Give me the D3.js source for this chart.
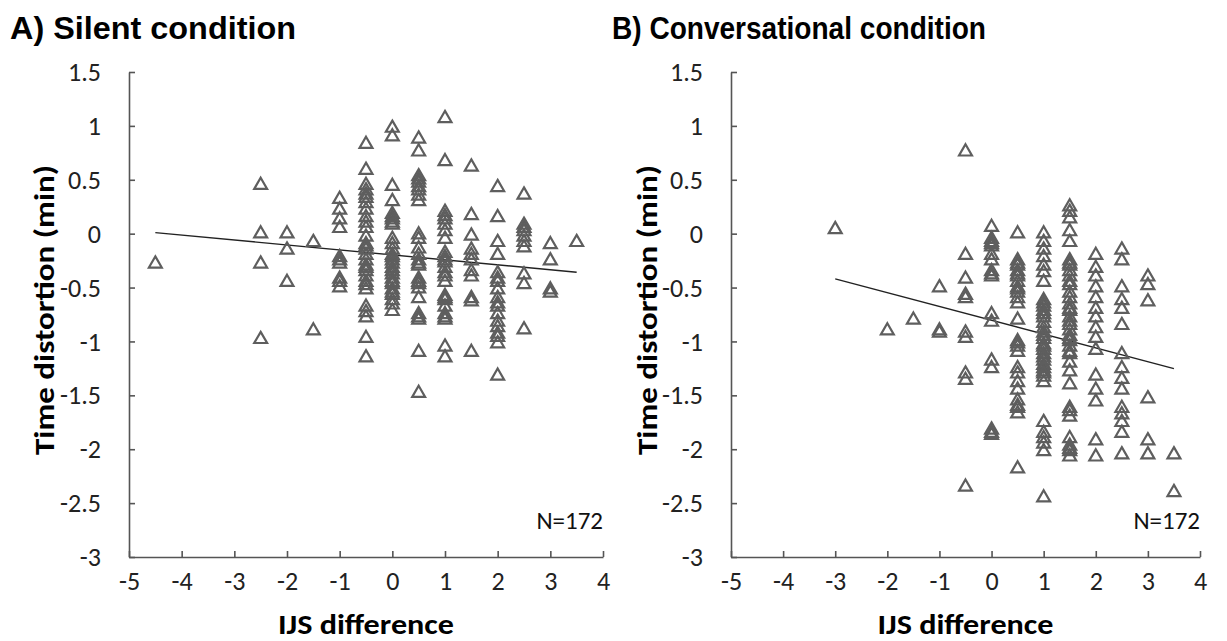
<!DOCTYPE html>
<html>
<head>
<meta charset="utf-8">
<script src="https://cdn.jsdelivr.net/npm/d3@7"></script>
<style>
  html, body { margin: 0; padding: 0; background: #fff; }
  svg { display: block; }
</style>
</head>
<body>
<svg id="chart" width="1227" height="641"></svg>
<script>
// IJS difference values (x) and time distortion in minutes (y), one array per panel.
const silentX = [
  -4.5,
  -2.5, -2.5, -2.5, -2.5,
  -2, -2, -2,
  -1.5, -1.5,
  -1, -1, -1, -1, -1, -1, -1, -1, -1, -1,
  -0.5, -0.5, -0.5, -0.5, -0.5, -0.5, -0.5, -0.5, -0.5, -0.5, -0.5, -0.5, -0.5, -0.5, -0.5, -0.5, -0.5, -0.5, -0.5, -0.5, -0.5, -0.5, -0.5, -0.5, -0.5, -0.5, -0.5, -0.5, -0.5,
  0, 0, 0, 0, 0, 0, 0, 0, 0, 0, 0, 0, 0, 0, 0, 0, 0, 0, 0, 0, 0, 0, 0, 0, 0, 0, 0, 0,
  0.5, 0.5, 0.5, 0.5, 0.5, 0.5, 0.5, 0.5, 0.5, 0.5, 0.5, 0.5, 0.5, 0.5, 0.5, 0.5, 0.5, 0.5, 0.5, 0.5, 0.5, 0.5, 0.5, 0.5, 0.5, 0.5,
  1, 1, 1, 1, 1, 1, 1, 1, 1, 1, 1, 1, 1, 1, 1, 1, 1, 1, 1, 1, 1, 1, 1, 1, 1,
  1.5, 1.5, 1.5, 1.5, 1.5, 1.5, 1.5, 1.5, 1.5, 1.5, 1.5,
  2, 2, 2, 2, 2, 2, 2, 2, 2, 2, 2, 2, 2, 2, 2, 2, 2, 2,
  2.5, 2.5, 2.5, 2.5, 2.5, 2.5, 2.5, 2.5, 2.5, 2.5,
  3, 3, 3, 3,
  3.5
];
const silentY = [
  -0.28,
  0.45, 0.0, -0.28, -0.98,
  0.0, -0.15, -0.45,
  -0.08, -0.9,
  0.32, 0.22, 0.13, 0.05, -0.22, -0.25, -0.28, -0.42, -0.45, -0.5,
  0.83, 0.59, 0.45, 0.4, 0.36, 0.33, 0.28, 0.22, 0.15, 0.1, 0.05, -0.03, -0.1, -0.15, -0.2, -0.25, -0.3, -0.35, -0.4, -0.45, -0.48, -0.52, -0.68, -0.73, -0.78, -0.97, -1.15, -0.32, -0.12,
  0.98, 0.9, 0.44, 0.3, 0.18, 0.15, 0.13, 0.1, 0.08, -0.05, -0.1, -0.15, -0.2, -0.22, -0.25, -0.28, -0.32, -0.35, -0.38, -0.42, -0.45, -0.47, -0.52, -0.55, -0.57, -0.62, -0.66, -0.72,
  0.88, 0.76, 0.53, 0.5, 0.47, 0.43, 0.4, 0.35, 0.3, -0.01, -0.05, -0.14, -0.2, -0.25, -0.28, -0.3, -0.42, -0.45, -0.47, -0.51, -0.6, -0.75, -0.78, -0.8, -1.1, -1.48,
  1.07, 0.67, 0.2, 0.16, 0.13, 0.08, 0.02, -0.05, -0.18, -0.22, -0.25, -0.27, -0.32, -0.37, -0.45, -0.58, -0.6, -0.62, -0.68, -0.75, -0.78, -0.8, -1.05, -1.15, -0.4,
  0.62, 0.17, -0.02, -0.15, -0.2, -0.25, -0.35, -0.4, -0.6, -0.63, -1.1,
  0.43, 0.15, -0.08, -0.2, -0.37, -0.42, -0.45, -0.52, -0.6, -0.65, -0.68, -0.75, -0.82, -0.87, -0.93, -0.96, -1.02, -1.32,
  0.36, 0.08, 0.05, 0.02, -0.03, -0.08, -0.13, -0.38, -0.47, -0.89,
  -0.1, -0.25, -0.52, -0.55,
  -0.08
];

const talkX = [
  -3,
  -2,
  -1.5,
  -1, -1, -1,
  -0.5, -0.5, -0.5, -0.5, -0.5, -0.5, -0.5, -0.5, -0.5, -0.5,
  0, 0, 0, 0, 0, 0, 0, 0, 0, 0, 0, 0, 0, 0, 0, 0, 0,
  0.5, 0.5, 0.5, 0.5, 0.5, 0.5, 0.5, 0.5, 0.5, 0.5, 0.5, 0.5, 0.5, 0.5, 0.5, 0.5, 0.5, 0.5, 0.5, 0.5, 0.5, 0.5, 0.5, 0.5, 0.5, 0.5, 0.5,
  1, 1, 1, 1, 1, 1, 1, 1, 1, 1, 1, 1, 1, 1, 1, 1, 1, 1, 1, 1, 1, 1, 1, 1, 1, 1, 1, 1, 1, 1, 1, 1, 1, 1, 1, 1,
  1.5, 1.5, 1.5, 1.5, 1.5, 1.5, 1.5, 1.5, 1.5, 1.5, 1.5, 1.5, 1.5, 1.5, 1.5, 1.5, 1.5, 1.5, 1.5, 1.5, 1.5, 1.5, 1.5, 1.5, 1.5, 1.5, 1.5, 1.5, 1.5, 1.5, 1.5, 1.5, 1.5, 1.5, 1.5, 1.5, 1.5, 1.5,
  2, 2, 2, 2, 2, 2, 2, 2, 2, 2, 2, 2, 2, 2, 2,
  2.5, 2.5, 2.5, 2.5, 2.5, 2.5, 2.5, 2.5, 2.5, 2.5, 2.5, 2.5, 2.5, 2.5, 2.5,
  3, 3, 3, 3, 3, 3,
  3.5, 3.5
];
const talkY = [
  0.04,
  -0.9,
  -0.8,
  -0.5, -0.9, -0.92,
  0.76, -0.2, -0.42, -0.57, -0.6, -0.92, -0.97, -1.3, -1.36, -2.35,
  0.06, -0.05, -0.1, -0.12, -0.2, -0.25, -0.35, -0.38, -0.75, -0.82, -1.18, -1.25, -1.82, -1.87, -0.08, -0.4, -1.85,
  0.0, -0.25, -0.3, -0.35, -0.4, -0.45, -0.5, -0.55, -0.6, -0.65, -0.8, -1.0, -1.05, -1.1, -1.25, -1.3, -1.38, -1.45, -1.55, -1.62, -1.67, -2.18, -0.28, -0.38, -0.52, -1.02, -1.6,
  0.0, -0.08, -0.15, -0.22, -0.3, -0.36, -0.45, -0.62, -0.68, -0.72, -0.78, -0.83, -0.88, -0.92, -0.98, -1.03, -1.08, -1.12, -1.18, -1.22, -1.28, -1.33, -1.38, -1.75, -1.85, -1.95, -2.02, -2.45, -0.65, -0.75, -0.95, -1.05, -1.15, -1.25, -1.3, -1.9,
  0.25, 0.2, 0.14, 0.02, -0.08, -0.25, -0.3, -0.35, -0.4, -0.48, -0.55, -0.6, -0.66, -0.72, -0.78, -0.85, -0.9, -0.95, -1.0, -1.05, -1.12, -1.2, -1.28, -1.4, -1.62, -1.7, -1.9, -1.97, -2.02, -2.07, -0.28, -0.45, -0.7, -0.82, -0.98, -1.1, -1.65, -2.0,
  -0.2, -0.32, -0.4, -0.5, -0.6, -0.7, -0.78, -0.88, -0.97, -1.08, -1.32, -1.45, -1.56, -1.92, -2.07,
  -0.15, -0.25, -0.5, -0.62, -0.7, -0.85, -1.12, -1.25, -1.35, -1.45, -1.62, -1.68, -1.75, -1.85, -2.05,
  -0.4, -0.48, -0.63, -1.53, -1.92, -2.05,
  -2.05, -2.4
];

// Least-squares lines as printed on each panel: [intercept, slope, xStart, xEnd]
const silentFit = [-0.197, -0.046, -4.5, 3.5];
const talkFit = [-0.804, -0.128, -3, 3.5];

const xTicks = [-5, -4, -3, -2, -1, 0, 1, 2, 3, 4];
const yTicks = [1.5, 1, 0.5, 0, -0.5, -1, -1.5, -2, -2.5, -3];

const panelTitles = ["A) Silent condition", "B) Conversational condition"];
const yTitle = "Time distortion (min)";
const xTitle = "IJS difference";
const nLabel = "N=172";

const svg = d3.select("#chart");
const axisColor = "#555";
const markColor = "#5e5e5e";
const tickFont = "Carlito, Lato, 'Open Sans', sans-serif";

const panels = [
  { xs: silentX, ys: silentY, fit: silentFit, title: panelTitles[0], titleW: 286, x0: 129, x1: 603, titleX: 10, yTitleX: 54 },
  { xs: talkX, ys: talkY, fit: talkFit, title: panelTitles[1], titleW: 374, x0: 731, x1: 1200, titleX: 612, yTitleX: 657 }
];

const triangle = d3.symbol().type(d3.symbolTriangle).size(72);

panels.forEach(p => {
  const x = d3.scaleLinear().domain([-5, 4]).range([p.x0, p.x1]);
  const y = d3.scaleLinear().domain([-3, 1.5]).range([557, 72]);
  const g = svg.append("g");

  // Panel title
  g.append("text")
    .attr("x", p.titleX).attr("y", 39)
    .attr("font-family", "'Liberation Sans', Arial, sans-serif")
    .attr("font-weight", "bold").attr("font-size", 32)
    .attr("textLength", p.titleW).attr("lengthAdjust", "spacingAndGlyphs")
    .attr("fill", "#000")
    .text(p.title);

  // Axes with inward ticks
  const yAxis = g.append("g")
    .attr("transform", `translate(${p.x0},0)`)
    .call(d3.axisLeft(y).tickValues(yTicks).tickSizeInner(-6).tickSizeOuter(0).tickPadding(28)
      .tickFormat(d => String(d)));
  const xAxis = g.append("g")
    .attr("transform", `translate(0,557)`)
    .call(d3.axisBottom(x).tickValues(xTicks).tickSizeInner(-6).tickSizeOuter(0).tickPadding(15)
      .tickFormat(d => String(d)));

  [xAxis, yAxis].forEach(a => {
    a.select(".domain").attr("stroke", axisColor).attr("stroke-width", 1.6);
    a.selectAll(".tick line").attr("stroke", axisColor).attr("stroke-width", 1.6);
    a.selectAll(".tick text")
      .attr("font-family", tickFont).attr("font-size", 26).attr("fill", "#222");
  });
  yAxis.selectAll(".tick text").attr("dy", "0.33em");
  xAxis.selectAll(".tick text").attr("dy", "0.71em");

  // Regression line
  const [b0, b1, xa, xb] = p.fit;
  g.append("line")
    .attr("x1", x(xa)).attr("y1", y(b0 + b1 * xa))
    .attr("x2", x(xb)).attr("y2", y(b0 + b1 * xb))
    .attr("stroke", "#222").attr("stroke-width", 1.4);

  // Observations
  g.append("g").selectAll("path")
    .data(d3.range(p.xs.length))
    .join("path")
    .attr("d", triangle)
    .attr("transform", i => `translate(${x(p.xs[i])},${y(p.ys[i])})`)
    .attr("fill", "none")
    .attr("stroke", markColor)
    .attr("stroke-width", 2.2)
    .attr("stroke-linejoin", "miter");

  // Sample size
  g.append("text")
    .attr("x", p.x1).attr("y", 529)
    .attr("text-anchor", "end")
    .attr("font-family", tickFont).attr("font-size", 25).attr("fill", "#111")
    .text(nLabel);

  // Axis titles
  g.append("text")
    .attr("transform", `translate(${p.yTitleX},${310}) rotate(-90)`)
    .attr("text-anchor", "middle")
    .attr("font-family", tickFont).attr("font-weight", "bold").attr("font-size", 29)
    .attr("textLength", 290).attr("lengthAdjust", "spacingAndGlyphs")
    .attr("fill", "#000")
    .text(yTitle);
  g.append("text")
    .attr("x", (p.x0 + p.x1) / 2).attr("y", 634)
    .attr("text-anchor", "middle")
    .attr("font-family", tickFont).attr("font-weight", "bold").attr("font-size", 29)
    .attr("textLength", 176).attr("lengthAdjust", "spacingAndGlyphs")
    .attr("fill", "#000")
    .text(xTitle);
});
</script>
</body>
</html>
